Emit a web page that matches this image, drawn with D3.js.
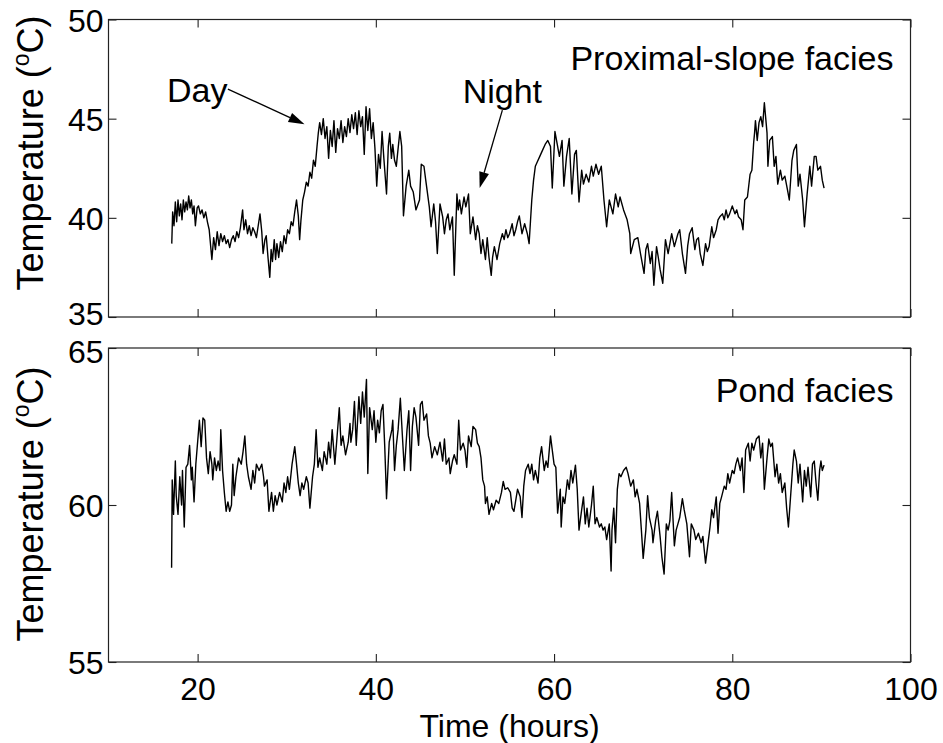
<!DOCTYPE html>
<html>
<head>
<meta charset="utf-8">
<script src="https://cdn.jsdelivr.net/npm/d3@7"></script>
<style>
  body { margin: 0; background: #fff; }
  svg text { font-family: "Liberation Sans", Arial, Helvetica, sans-serif; fill: #000; }
</style>
</head>
<body>
<div id="chart"></div>
<script>
// tick values
const xTicks = [20, 40, 60, 80, 100];
const proxTicks = [35, 40, 45, 50];
const pondTicks = [55, 60, 65];

// [time (hours), temperature (oC)]
const proximalSlope = [
  [17.1,38.7],[17.2,40.3],[17.35,39.6],[17.5,40.8],[17.65,39.8],[17.8,40.9],[17.95,40.1],[18.1,40.7],[18.25,39.9],[18.4,40.9],
  [18.55,40.3],[18.7,40.8],[18.85,40.4],[19.0,41.1],[19.15,40.5],[19.3,40.9],[19.45,40.2],[19.6,40.6],[19.75,39.6],[19.95,40.5],
  [20.1,40.6],[20.3,40.2],[20.5,40.4],[20.7,40.0],[20.9,40.3],[21.1,39.8],[21.3,39.4],[21.6,37.9],[21.8,39.0],[22.0,38.4],
  [22.2,39.3],[22.4,38.6],[22.6,39.2],[22.8,38.8],[23.0,39.1],[23.2,38.7],[23.4,38.9],[23.6,38.5],[23.8,38.9],[24.0,39.1],
  [24.2,38.8],[24.4,39.3],[24.6,39.0],[24.8,39.5],[25.05,40.4],[25.2,39.4],[25.4,39.9],[25.6,39.2],[25.8,39.6],[26.0,39.1],
  [26.2,39.5],[26.4,39.3],[26.6,39.0],[26.8,39.6],[27.0,40.2],[27.2,39.3],[27.35,38.2],[27.55,38.9],[27.7,39.1],[27.9,38.0],
  [28.1,37.0],[28.25,38.4],[28.4,37.8],[28.6,38.9],[28.75,37.9],[28.9,38.7],[29.1,38.0],[29.3,38.8],[29.5,38.3],[29.7,39.1],
  [29.9,38.7],[30.1,39.4],[30.3,39.2],[30.5,39.8],[30.7,39.6],[30.9,40.3],[31.1,40.9],[31.3,40.1],[31.45,38.9],[31.6,39.9],
  [31.8,40.9],[32.0,41.3],[32.2,41.8],[32.4,41.6],[32.6,42.3],[32.8,42.0],[33.0,42.9],[33.2,42.6],[33.4,43.6],[33.55,44.3],
  [33.7,44.8],[33.9,44.2],[34.1,45.0],[34.3,44.0],[34.5,44.6],[34.7,43.0],[34.9,44.4],[35.1,43.6],[35.3,44.9],[35.5,43.3],
  [35.7,44.5],[35.9,44.0],[36.1,44.9],[36.3,43.8],[36.5,44.6],[36.7,44.1],[36.9,45.0],[37.1,44.3],[37.3,45.2],[37.5,44.5],
  [37.7,45.3],[37.9,44.2],[38.1,45.4],[38.3,44.6],[38.5,45.1],[38.7,43.2],[38.9,45.6],[39.1,44.4],[39.3,45.5],[39.5,44.0],
  [39.7,44.8],[39.9,43.5],[40.1,41.6],[40.3,43.2],[40.5,42.5],[40.7,44.35],[40.9,43.0],[41.2,41.2],[41.4,43.6],[41.56,44.27],
  [41.75,43.0],[41.9,43.7],[42.1,42.9],[42.3,42.6],[42.5,43.5],[42.7,44.35],[42.9,43.6],[43.1,40.1],[43.4,41.6],[43.7,42.4],
  [43.9,41.6],[44.2,41.3],[44.5,40.4],[44.9,40.9],[45.1,42.7],[45.4,42.6],[45.6,41.9],[46.0,40.55],[46.2,39.55],[46.5,40.7],
  [46.7,39.8],[46.9,38.2],[47.2,40.7],[47.5,40.05],[47.7,39.2],[47.9,39.9],[48.1,40.2],[48.3,39.4],[48.6,40.05],[48.8,37.1],
  [49.1,41.2],[49.25,40.4],[49.4,40.9],[49.6,40.2],[49.9,41.05],[50.1,40.55],[50.4,41.2],[50.6,39.2],[50.9,40.05],[51.2,38.9],
  [51.4,39.6],[51.6,39.2],[51.8,38.2],[52.0,38.9],[52.3,37.9],[52.5,39.0],[52.7,38.0],[52.95,37.1],[53.1,38.0],[53.3,38.55],
  [53.6,37.9],[53.9,38.7],[54.2,39.2],[54.4,38.9],[54.6,39.4],[54.8,39.0],[55.0,39.2],[55.3,39.7],[55.5,39.1],[55.7,39.4],
  [55.9,39.8],[56.1,40.1],[56.4,39.2],[56.7,39.7],[57.0,39.2],[57.2,38.7],[57.35,39.8],[57.5,40.9],[57.7,41.9],[57.9,42.6],
  [58.1,42.8],[58.4,43.1],[58.7,43.4],[59.0,43.7],[59.3,43.9],[59.6,43.6],[59.8,41.5],[60.1,44.35],[60.4,43.6],[60.6,43.1],
  [60.9,43.9],[61.1,41.6],[61.4,43.1],[61.7,44.0],[62.0,41.2],[62.3,43.2],[62.5,43.4],[62.8,40.8],[63.1,42.4],[63.3,41.7],
  [63.6,42.2],[63.9,41.8],[64.2,42.6],[64.4,42.1],[64.7,42.7],[65.0,42.2],[65.3,42.6],[65.6,40.9],[65.9,39.55],[66.2,40.9],
  [66.6,40.2],[66.9,41.2],[67.2,40.55],[67.4,41.05],[67.8,40.4],[68.2,39.9],[68.5,39.2],[68.6,38.2],[69.0,38.9],[69.4,39.0],
  [69.7,38.2],[70.1,37.2],[70.3,38.4],[70.5,38.7],[70.8,37.7],[71.0,38.3],[71.2,36.6],[71.5,38.55],[71.7,38.0],[71.9,37.4],
  [72.2,36.7],[72.5,38.9],[72.8,38.2],[73.0,38.7],[73.2,39.2],[73.5,38.55],[73.9,39.2],[74.1,39.4],[74.4,38.2],[74.75,37.2],
  [75.0,38.6],[75.2,39.2],[75.5,39.5],[75.8,38.4],[76.0,38.9],[76.2,39.0],[76.4,38.2],[76.7,37.6],[77.0,38.7],[77.2,38.3],
  [77.4,38.55],[77.7,39.55],[77.9,39.0],[78.2,39.4],[78.4,39.9],[78.6,40.05],[78.9,40.2],[79.1,39.9],[79.3,40.4],[79.5,40.0],
  [79.7,40.2],[80.0,40.6],[80.3,40.2],[80.5,40.4],[80.7,40.05],[81.0,39.9],[81.2,39.4],[81.4,40.9],[81.7,41.05],[82.0,42.2],
  [82.2,42.4],[82.4,43.8],[82.5,44.27],[82.6,44.9],[82.8,43.9],[83.0,44.8],[83.2,45.1],[83.4,44.6],[83.6,45.8],[83.9,44.27],
  [84.0,42.6],[84.2,43.9],[84.5,44.1],[84.7,42.6],[84.9,43.1],[85.1,41.7],[85.4,42.4],[85.6,41.9],[85.9,42.1],[86.2,41.4],
  [86.4,40.9],[86.7,42.9],[86.9,43.4],[87.2,43.7],[87.4,41.6],[87.6,42.2],[87.9,40.9],[88.1,39.55],[88.4,41.2],[88.7,42.6],
  [88.9,41.6],[89.2,43.1],[89.4,43.1],[89.6,42.4],[89.9,42.6],[90.1,41.9],[90.3,41.5]
];

const pond = [
  [17.08,58.0],[17.15,60.8],[17.3,59.7],[17.5,61.4],[17.6,60.3],[17.8,59.7],[18.0,60.9],[18.2,60.0],[18.3,61.1],[18.5,59.3],
  [18.7,61.2],[18.9,61.3],[19.1,61.9],[19.3,60.8],[19.4,61.2],[19.6,60.1],[19.8,61.3],[20.0,62.0],[20.2,62.7],[20.4,61.86],
  [20.6,62.77],[20.8,62.7],[21.0,61.5],[21.2,61.0],[21.4,61.7],[21.6,61.3],[21.7,60.8],[21.9,61.5],[22.1,61.1],[22.3,61.4],
  [22.5,61.1],[22.6,62.4],[22.8,61.1],[23.0,60.4],[23.2,59.8],[23.4,60.1],[23.6,59.8],[23.8,60.0],[23.95,61.3],[24.1,60.3],
  [24.3,60.9],[24.6,61.5],[24.9,61.3],[25.1,61.7],[25.3,62.2],[25.5,61.3],[25.7,60.9],[26.0,60.5],[26.2,61.1],[26.4,60.7],
  [26.6,61.3],[26.9,61.1],[27.2,61.3],[27.4,60.9],[27.5,60.6],[27.8,60.8],[28.0,59.8],[28.3,60.4],[28.5,59.8],[28.7,60.3],
  [28.9,60.0],[29.2,60.4],[29.5,60.1],[29.7,60.7],[29.9,60.4],[30.1,60.9],[30.3,60.5],[30.6,61.3],[30.9,61.86],[31.1,61.3],
  [31.3,60.7],[31.5,60.3],[31.7,60.7],[31.9,60.5],[32.2,60.9],[32.4,60.7],[32.6,59.9],[32.9,60.9],[33.1,61.3],[33.3,62.4],
  [33.5,61.2],[33.7,61.5],[34.0,61.1],[34.2,61.7],[34.5,61.3],[34.7,62.0],[34.9,61.5],[35.1,62.4],[35.4,61.3],[35.6,62.0],
  [35.9,63.1],[36.1,61.9],[36.3,62.2],[36.6,61.6],[36.9,62.0],[37.1,62.6],[37.2,62.0],[37.4,62.4],[37.6,63.3],[37.8,61.9],
  [38.1,63.45],[38.3,62.6],[38.5,63.6],[38.7,62.8],[38.95,64.0],[39.1,61.0],[39.3,63.1],[39.6,62.4],[39.8,63.0],[40.0,62.0],
  [40.2,62.7],[40.4,62.3],[40.6,63.0],[40.8,63.2],[41.0,61.86],[41.2,60.2],[41.5,62.0],[41.8,62.4],[41.9,62.7],[42.1,61.1],
  [42.3,61.9],[42.5,62.4],[42.75,63.4],[43.0,62.1],[43.2,61.1],[43.5,62.4],[43.7,63.0],[43.9,61.1],[44.1,62.5],[44.3,63.1],
  [44.5,62.8],[44.8,61.9],[45.0,63.2],[45.2,63.3],[45.4,62.7],[45.7,62.9],[45.9,62.2],[46.1,61.97],[46.3,61.5],[46.6,61.86],
  [46.9,61.6],[47.2,62.0],[47.5,61.4],[47.7,62.1],[47.9,61.3],[48.2,61.5],[48.35,61.0],[48.6,61.4],[48.8,61.6],[49.1,61.3],
  [49.3,62.7],[49.5,61.75],[49.8,61.97],[50.0,61.75],[50.2,61.2],[50.4,62.2],[50.7,61.86],[50.9,62.5],[51.2,62.4],[51.4,61.97],
  [51.6,61.86],[51.8,61.5],[52.0,60.8],[52.2,60.6],[52.3,60.05],[52.5,60.26],[52.7,59.7],[53.0,60.05],[53.2,59.85],[53.5,60.15],
  [53.8,60.05],[54.1,60.4],[54.3,60.75],[54.5,60.5],[54.8,60.55],[55.1,60.4],[55.3,59.9],[55.5,59.8],[55.7,60.15],[55.9,60.5],
  [56.2,60.26],[56.4,59.6],[56.6,60.6],[56.8,61.1],[57.1,61.3],[57.3,61.0],[57.5,61.3],[57.7,60.8],[57.9,61.1],[58.2,60.7],
  [58.4,61.5],[58.6,61.86],[58.9,61.1],[59.1,61.4],[59.3,61.2],[59.6,62.2],[59.8,61.75],[60.0,61.3],[60.2,61.2],[60.4,59.74],
  [60.7,60.5],[60.8,59.3],[61.0,60.26],[61.2,60.05],[61.5,60.8],[61.7,60.5],[61.9,61.1],[62.1,60.7],[62.4,61.27],[62.6,60.5],
  [62.8,59.2],[63.1,59.85],[63.3,60.26],[63.5,59.4],[63.7,59.9],[63.9,59.3],[64.2,60.0],[64.4,60.6],[64.6,59.4],[64.8,59.6],
  [65.1,59.3],[65.3,59.4],[65.5,59.2],[65.7,59.3],[65.9,58.9],[66.2,59.4],[66.4,57.9],[66.5,59.2],[66.7,59.9],[66.9,58.8],
  [67.1,60.5],[67.3,61.0],[67.5,60.9],[67.8,61.1],[68.1,61.2],[68.3,61.0],[68.6,60.6],[68.9,60.8],[69.1,60.26],[69.3,60.5],
  [69.6,60.05],[69.8,59.2],[70.0,58.3],[70.3,59.2],[70.5,60.3],[70.7,59.6],[71.0,59.2],[71.1,58.8],[71.4,59.5],[71.6,59.8],
  [71.9,59.0],[72.1,58.35],[72.35,57.8],[72.6,59.4],[72.8,59.2],[73.0,59.5],[73.2,60.4],[73.5,58.7],[73.7,59.2],[73.9,59.4],
  [74.1,59.6],[74.4,60.2],[74.6,59.85],[74.9,59.4],[75.2,58.35],[75.4,59.4],[75.7,59.2],[75.9,58.9],[76.2,59.1],[76.5,58.8],
  [76.7,59.0],[77.0,58.15],[77.2,58.6],[77.5,59.3],[77.7,59.85],[77.9,59.6],[78.2,60.26],[78.4,59.1],[78.6,60.05],[78.8,60.26],
  [79.1,60.6],[79.3,60.5],[79.5,61.0],[79.7,60.7],[80.0,61.1],[80.2,61.0],[80.4,61.3],[80.6,61.5],[80.9,61.1],[81.1,61.5],
  [81.3,60.4],[81.5,61.75],[81.8,61.97],[82.0,61.4],[82.2,61.97],[82.4,61.75],[82.7,62.1],[83.0,62.2],[83.2,61.5],[83.4,61.97],
  [83.6,60.5],[83.9,61.5],[84.1,62.1],[84.3,61.86],[84.5,61.97],[84.8,60.9],[85.0,61.3],[85.2,60.7],[85.4,61.0],[85.6,60.4],
  [85.9,60.7],[86.1,59.9],[86.3,59.3],[86.6,60.5],[86.8,61.3],[86.95,61.75],[87.2,61.4],[87.4,60.7],[87.6,61.3],[87.9,60.1],
  [88.1,61.1],[88.3,60.6],[88.5,61.2],[88.8,60.26],[89.0,61.3],[89.2,61.4],[89.4,60.7],[89.6,60.15],[89.8,61.1],[89.95,61.4],
  [90.1,61.1],[90.3,61.27]
];

// arrow annotations in data units: label anchor, arrow start, arrow tip
const dayNote = { text: "Day", at: [16.56, 45.83], from: [23.4, 46.49], to: [32.0, 44.72] };
const nightNote = { text: "Night", at: [49.74, 45.78], from: [54.2, 45.43], to: [51.65, 41.5] };

const width = 943, height = 743;
const tickFont = 32, noteFont = 34, labelFont = 36;

const svg = d3.select("#chart").append("svg")
    .attr("width", width)
    .attr("height", height);

const x = d3.scaleLinear().domain([10, 100]).range([108.5, 910.5]);

// edgeDy nudges the tick label that sits where the two panels meet
const panels = [
    { title: "Proximal-slope facies", data: proximalSlope, domain: [35, 50], top: 19.5, bottom: 317, ticks: proxTicks,
      titleY: 70, labelY: 153, xLabels: false, edgeTick: 35, edgeDy: "0.24em" },
    { title: "Pond facies", data: pond, domain: [55, 65], top: 348, bottom: 662, ticks: pondTicks,
      titleY: 402, labelY: 504, xLabels: true, edgeTick: 65, edgeDy: "0.46em" }
];

function styleAxis(g) {
    g.attr("font-family", null).attr("font-size", null);
    g.select(".domain").remove();
    g.selectAll(".tick line").attr("stroke", "#222").attr("stroke-width", 1.1);
    g.selectAll("text").style("font-size", tickFont + "px");
}

panels.forEach(p => {
    const y = d3.scaleLinear().domain(p.domain).range([p.bottom, p.top]);
    p.y = y;
    const g = svg.append("g");

    // series line
    g.append("path")
        .datum(p.data)
        .attr("fill", "none")
        .attr("stroke", "#000")
        .attr("stroke-width", 1.4)
        .attr("stroke-linejoin", "round")
        .attr("d", d3.line().x(d => x(d[0])).y(d => y(d[1])));

    // inward ticks on all four sides
    g.append("g")
        .attr("transform", `translate(${x(10)},0)`)
        .call(d3.axisLeft(y).tickValues(p.ticks).tickSize(-8).tickPadding(5).tickFormat(d3.format("d")))
        .call(styleAxis)
        .selectAll("text").attr("dy", d => d === p.edgeTick ? p.edgeDy : "0.36em");

    g.append("g")
        .attr("transform", `translate(${x(100)},0)`)
        .call(d3.axisRight(y).tickValues(p.ticks).tickSize(-8).tickFormat(""))
        .call(styleAxis);

    g.append("g")
        .attr("transform", `translate(0,${p.top})`)
        .call(d3.axisTop(x).tickValues(xTicks).tickSize(-8).tickFormat(""))
        .call(styleAxis);

    g.append("g")
        .attr("transform", `translate(0,${p.bottom})`)
        .call(d3.axisBottom(x).tickValues(xTicks).tickSize(-8).tickPadding(15)
            .tickFormat(p.xLabels ? d3.format("d") : ""))
        .call(styleAxis);

    // frame
    g.append("rect")
        .attr("x", x(10))
        .attr("y", p.top)
        .attr("width", x(100) - x(10))
        .attr("height", p.bottom - p.top)
        .attr("fill", "none")
        .attr("stroke", "#222")
        .attr("stroke-width", 1.2);

    // panel title
    g.append("text")
        .attr("x", x(100) - 17)
        .attr("y", p.titleY)
        .attr("text-anchor", "end")
        .style("font-size", noteFont + "px")
        .text(p.title);

    // y axis label with superscript o
    const lab = g.append("text")
        .attr("transform", `translate(43,${p.labelY}) rotate(-90)`)
        .attr("text-anchor", "middle")
        .style("font-size", labelFont + "px");
    lab.append("tspan").text("Temperature (");
    lab.append("tspan").text("o").style("font-size", "23px").attr("dy", -14);
    lab.append("tspan").text("C)").attr("dy", 14);
});

// x axis title
svg.append("text")
    .attr("x", (x(10) + x(100)) / 2)
    .attr("y", 737)
    .attr("text-anchor", "middle")
    .style("font-size", tickFont + "px")
    .text("Time (hours)");

// Day / Night arrows on the top panel
const yTop = panels[0].y;
[dayNote, nightNote].forEach(n => {
    svg.append("text")
        .attr("x", x(n.at[0]))
        .attr("y", yTop(n.at[1]))
        .style("font-size", noteFont + "px")
        .text(n.text);

    const x0 = x(n.from[0]), y0 = yTop(n.from[1]);
    const x1 = x(n.to[0]), y1 = yTop(n.to[1]);
    const ang = Math.atan2(y1 - y0, x1 - x0);
    const headLen = 16, headW = 5;
    const bx = x1 - headLen * Math.cos(ang), by = y1 - headLen * Math.sin(ang);

    svg.append("line")
        .attr("x1", x0).attr("y1", y0)
        .attr("x2", bx).attr("y2", by)
        .attr("stroke", "#000")
        .attr("stroke-width", 1.3);

    svg.append("path")
        .attr("d", `M${x1},${y1}L${bx - headW * Math.sin(ang)},${by + headW * Math.cos(ang)}L${bx + headW * Math.sin(ang)},${by - headW * Math.cos(ang)}Z`)
        .attr("fill", "#000");
});
</script>
</body>
</html>
